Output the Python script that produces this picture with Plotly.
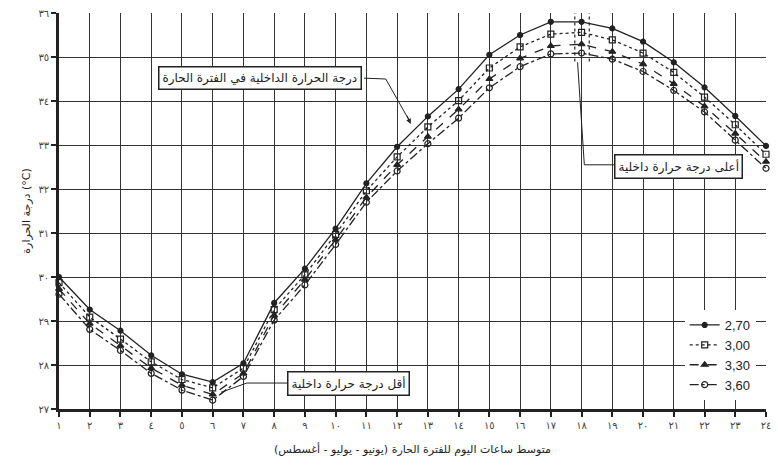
import plotly.graph_objects as go

hours = list(range(1, 25))
hour_labels = ["١", "٢", "٣", "٤", "٥", "٦", "٧", "٨", "٩", "١٠", "١١", "١٢",
               "١٣", "١٤", "١٥", "١٦", "١٧", "١٨", "١٩", "٢٠", "٢١", "٢٢", "٢٣", "٢٤"]
temp_ticks = [27, 28, 29, 30, 31, 32, 33, 34, 35, 36]
temp_labels = ["٢٧", "٢٨", "٢٩", "٣٠", "٣١", "٣٢", "٣٣", "٣٤", "٣٥", "٣٦"]

series_names = ["2,70", "3,00", "3,30", "3,60"]
t270 = [30.00, 29.26, 28.78, 28.22, 27.79, 27.61, 28.04, 29.41, 30.19, 31.10, 32.13, 32.96,
        33.65, 34.27, 35.05, 35.50, 35.80, 35.80, 35.65, 35.35, 34.88, 34.31, 33.66, 32.98]
t300 = [29.87, 29.09, 28.59, 28.07, 27.67, 27.48, 27.93, 29.26, 30.05, 30.97, 31.96, 32.73,
        33.41, 34.01, 34.75, 35.23, 35.52, 35.56, 35.39, 35.09, 34.65, 34.09, 33.46, 32.79]
t330 = [29.73, 28.94, 28.44, 27.93, 27.54, 27.33, 27.81, 29.13, 29.94, 30.85, 31.81, 32.55,
        33.19, 33.81, 34.50, 34.97, 35.25, 35.29, 35.12, 34.84, 34.39, 33.88, 33.26, 32.62]
t360 = [29.61, 28.81, 28.33, 27.81, 27.43, 27.20, 27.74, 29.02, 29.82, 30.74, 31.70, 32.41,
        33.03, 33.61, 34.30, 34.78, 35.07, 35.09, 34.95, 34.67, 34.24, 33.75, 33.11, 32.47]

INK = "#222222"
AR_FONT = "DejaVu Sans, Noto Sans, sans-serif"

styles = [
    dict(dash="solid", symbol="circle", size=5),
    dict(dash="dot", symbol="square-open", size=6),
    dict(dash="dash", symbol="triangle-up", size=6),
    dict(dash="dashdot", symbol="circle-open", size=6),
]

fig = go.Figure()
for name, vals, st in zip(series_names, [t270, t300, t330, t360], styles):
    fig.add_trace(go.Scatter(
        x=hours, y=vals, name=name, mode="lines+markers",
        line=dict(color=INK, width=1.3, dash=st["dash"]),
        marker=dict(color=INK, symbol=st["symbol"], size=st["size"],
                    line=dict(color=INK, width=1.2)),
        cliponaxis=False,
    ))

# dotted peak markers near hour 18
for xv in (17.78, 18.25):
    fig.add_shape(type="line", xref="x", yref="y", x0=xv, x1=xv, y0=34.9, y1=36,
                  line=dict(color=INK, width=1.2, dash="dot"))

# leader lines
fig.add_shape(type="path", xref="x", yref="y",
              path="M 10.92 34.52 L 11.63 34.50 L 12.40 33.55",
              line=dict(color=INK, width=1))
fig.add_annotation(x=12.44, y=33.48, ax=12.30, ay=33.70, xref="x", yref="y",
                   axref="x", ayref="y", text="", showarrow=True,
                   arrowhead=2, arrowsize=1, arrowwidth=1, arrowcolor=INK)
fig.add_shape(type="path", xref="x", yref="y",
              path="M 19.06 32.55 L 18.09 32.55 L 17.87 34.88",
              line=dict(color=INK, width=1))
fig.add_shape(type="path", xref="x", yref="y",
              path="M 8.50 27.59 L 7.11 27.59 L 6.27 27.38",
              line=dict(color=INK, width=1))

box = dict(bordercolor=INK, borderwidth=1.5, bgcolor="white", borderpad=3,
           showarrow=False, xref="x", yref="y", font=dict(family=AR_FONT, size=12, color=INK))
fig.add_annotation(x=7.53, y=34.52, text="درجة الحرارة الداخلية في الفترة الحارة", **box)
fig.add_annotation(x=21.16, y=32.52, text="أعلى درجة حرارة داخلية", **box)
fig.add_annotation(x=10.43, y=27.59, text="أقل درجة حرارة داخلية", **box)

fig.update_layout(
    width=778, height=469,
    margin=dict(l=59, r=7, t=10, b=60),
    paper_bgcolor="white", plot_bgcolor="white",
    showlegend=True,
    legend=dict(x=0.885, y=0.25, xanchor="left", yanchor="top",
                bgcolor="white", borderwidth=0,
                font=dict(family="Liberation Sans Narrow, Liberation Sans, sans-serif", size=13, color=INK),
                itemwidth=30, tracegroupgap=0),
    font=dict(family=AR_FONT, color=INK),
)
fig.update_xaxes(
    range=[1, 24], tickvals=hours, ticktext=hour_labels,
    showgrid=True, gridcolor="#333333", gridwidth=1.2,
    showline=True, linecolor=INK, linewidth=2.5,
    ticks="outside", ticklen=5, tickwidth=2, tickcolor=INK,
    tickfont=dict(family=AR_FONT, size=10, color="#444444"),
    title=dict(text="متوسط ساعات اليوم للفترة الحارة (يونيو - يوليو - أغسطس)",
               font=dict(family=AR_FONT, size=11, color=INK), standoff=16),
    zeroline=False,
)
fig.update_yaxes(
    range=[27, 36], tickvals=temp_ticks, ticktext=temp_labels,
    showgrid=True, gridcolor="#333333", gridwidth=1.2,
    showline=True, linecolor=INK, linewidth=2.5,
    ticks="outside", ticklen=5, tickwidth=2, tickcolor=INK,
    tickfont=dict(family=AR_FONT, size=10, color="#444444"),
    title=dict(text="درجة الحرارة (°C)",
               font=dict(family=AR_FONT, size=11, color=INK), standoff=6),
    zeroline=False,
)

fig.write_html("out.html", config={"displayModeBar": False},
               post_script="document.body.style.margin='0';document.body.style.overflow='hidden';")
